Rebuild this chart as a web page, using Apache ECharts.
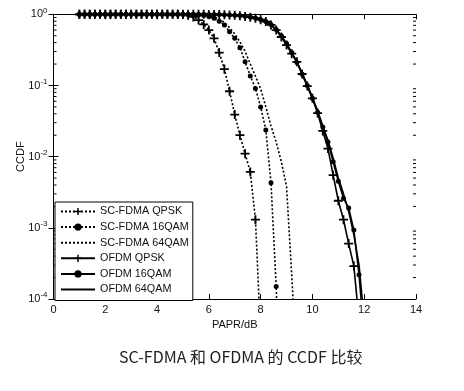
<!DOCTYPE html>
<html>
<head>
<meta charset="utf-8">
<script src="https://cdn.jsdelivr.net/npm/echarts@6/dist/echarts.min.js"></script>
<style>
html,body{margin:0;padding:0;background:#fff;}
#c{width:464px;height:391px;}
</style>
</head>
<body>
<div id="c"></div>
<script>
// PAPR grid (dB)
const papr = [1.0,1.2,1.4,1.6,1.8,2.0,2.2,2.4,2.6,2.8,3.0,3.2,3.4,3.6,3.8,4.0,4.2,4.4,4.6,4.8,
  5.0,5.2,5.4,5.6,5.8,6.0,6.2,6.4,6.6,6.8,7.0,7.2,7.4,7.6,7.8,8.0,8.2,8.4,8.6,8.8,
  9.0,9.2,9.4,9.6,9.8,10.0,10.2,10.4,10.6,10.8,11.0,11.2,11.4,11.6,11.8,12.0];

const scQpsk = [1,1,1,1,1,1,1,1,1,1,1,1,1,1,1,1,1,1,1,1,
  0.99,0.97,0.92,0.83,0.72,0.60,0.46,0.29,0.17,0.083,0.039,0.020,0.011,0.0061,0.0013,0.00003];

const sc16 = [1,1,1,1,1,1,1,1,1,1,1,1,1,1,1,1,1,1,1,1,1,
  0.995,0.99,0.98,0.96,0.93,0.88,0.80,0.71,0.57,0.46,0.34,0.216,0.136,0.091,0.050,0.0237,0.0043,0.00015,0.000001];

const sc64 = [1,1,1,1,1,1,1,1,1,1,1,1,1,1,1,1,1,1,1,1,1,1,
  0.995,0.99,0.98,0.96,0.92,0.86,0.77,0.65,0.53,0.41,0.30,0.20,0.135,0.09,0.05,0.027,0.016,0.0085,0.0038,0.00022,0.00001];

const ofdmQpsk = [1,1,1,1,1,1,1,1,1,1,1,1,1,1,1,1,1,1,1,1,1,1,1,1,1,
  0.995,0.993,0.99,0.985,0.98,0.97,0.955,0.935,0.91,0.88,0.84,0.79,0.71,0.60,0.48,0.37,0.28,0.215,0.145,0.098,
  0.066,0.041,0.023,0.013,0.0055,0.0024,0.0013,0.0006,0.00029,0.00005];

const ofdm16 = [1,1,1,1,1,1,1,1,1,1,1,1,1,1,1,1,1,1,1,1,1,1,1,1,1,
  0.996,0.994,0.99,0.986,0.98,0.972,0.96,0.94,0.915,0.885,0.845,0.795,0.72,0.61,0.50,0.39,0.29,0.21,0.145,0.10,
  0.066,0.042,0.026,0.016,0.0085,0.0045,0.0026,0.0019,0.00093,0.00022,0.00003];

const ofdm64 = [1,1,1,1,1,1,1,1,1,1,1,1,1,1,1,1,1,1,1,1,1,1,1,1,1,
  0.996,0.994,0.99,0.985,0.978,0.97,0.958,0.94,0.915,0.88,0.84,0.785,0.71,0.61,0.49,0.385,0.29,0.215,0.15,0.102,
  0.068,0.044,0.027,0.017,0.0095,0.005,0.003,0.0017,0.0008,0.0003,0.00005];

const seriesNames = ['SC-FDMA QPSK','SC-FDMA 16QAM','SC-FDMA 64QAM','OFDM QPSK','OFDM 16QAM','OFDM 64QAM'];
const xTicks = [0,2,4,6,8,10,12,14];
const minorTicks = [2e-4,3e-4,4e-4,5e-4,6e-4,7e-4,8e-4,9e-4,
  2e-3,3e-3,4e-3,5e-3,6e-3,7e-3,8e-3,9e-3,
  2e-2,3e-2,4e-2,5e-2,6e-2,7e-2,8e-2,9e-2,
  2e-1,3e-1,4e-1,5e-1,6e-1,7e-1,8e-1,9e-1];
const titleText = 'SC-FDMA 和 OFDMA 的 CCDF 比较';

const pairs = vals => vals.map((v, i) => [papr[i], v]);
const plus = 'path://M-1,-5L1,-5L1,-1L5,-1L5,1L1,1L1,5L-1,5L-1,1L-5,1L-5,-1L-1,-1Z';
const FONT = '"Liberation Sans", Arial, sans-serif';

function mkLine(name, vals, dotted, symbol, size) {
  return {
    name: name, type: 'line', data: pairs(vals),
    xAxisIndex: 0, yAxisIndex: 0,
    showSymbol: symbol !== 'none', symbol: symbol, symbolSize: size,
    itemStyle: {color: '#000', borderWidth: 0},
    lineStyle: {color: '#000', width: 1.6, type: dotted ? [2, 2] : 'solid'},
    clip: true, animation: false, z: 3
  };
}

const hidden = {color: 'rgba(0,0,0,0)', borderColor: 'rgba(0,0,0,0)', borderWidth: 0, opacity: 0};
const legendData = seriesNames.map((n, i) => (i === 2 || i === 5) ? {name: n, itemStyle: hidden} : {name: n});

const chart = echarts.init(document.getElementById('c'), null, {renderer: 'canvas'});
chart.setOption({
  animation: false,
  backgroundColor: '#fff',
  title: {
    text: titleText, left: 114, top: 344,
    textStyle: {fontFamily: '"Noto Sans CJK SC", sans-serif', fontSize: 16, fontWeight: 'normal', color: '#222'}
  },
  grid: {left: 53.5, right: 48, top: 14.3, bottom: 92, containLabel: false},
  legend: {
    data: legendData, orient: 'vertical', left: 55, top: 202,
    itemWidth: 34, itemHeight: 9, itemGap: 4.6, padding: [4, 4, 5.5, 5],
    borderColor: '#000', borderWidth: 1, backgroundColor: '#fff',
    textStyle: {fontFamily: FONT, fontSize: 10.8, color: '#111'},
    selectedMode: false, z: 10
  },
  xAxis: [{
    type: 'value', min: xTicks[0], max: xTicks[xTicks.length - 1], interval: 2,
    name: 'PAPR/dB', nameLocation: 'middle', nameGap: 18,
    nameTextStyle: {fontFamily: FONT, fontSize: 11, color: '#111'},
    axisLine: {show: true, lineStyle: {color: '#000', width: 1}},
    axisTick: {show: true, inside: true, length: 5, lineStyle: {color: '#000'}},
    axisLabel: {fontFamily: FONT, fontSize: 11, color: '#111', margin: 5},
    splitLine: {show: false}
  }, {
    type: 'value', position: 'top', min: xTicks[0], max: xTicks[xTicks.length - 1], interval: 2,
    axisLine: {show: true, lineStyle: {color: '#000', width: 1}},
    axisTick: {show: true, inside: true, length: 5, lineStyle: {color: '#000'}},
    axisLabel: {show: false}, splitLine: {show: false}
  }],
  yAxis: [{
    type: 'log', logBase: 10, min: 1e-4, max: 1,
    name: 'CCDF', nameLocation: 'middle', nameGap: 27, nameRotate: 90, nameMoveOverlap: false,
    nameTextStyle: {fontFamily: FONT, fontSize: 11, color: '#111'},
    axisLine: {show: true, lineStyle: {color: '#000', width: 1}},
    axisTick: {show: true, inside: true, length: 5, lineStyle: {color: '#000'}},
    axisLabel: {
      margin: 6, fontFamily: FONT, color: '#111',
      formatter: v => '{b|10}{s|' + Math.round(Math.log10(v)) + '}',
      rich: {
        b: {fontFamily: FONT, fontSize: 11, color: '#111'},
        s: {fontFamily: FONT, fontSize: 8, color: '#111', padding: [0, 0, 8, 0]}
      }
    },
    splitLine: {show: false}
  }, {
    type: 'log', logBase: 10, min: 1e-4, max: 1, position: 'right',
    axisLine: {show: true, lineStyle: {color: '#000', width: 1}},
    axisTick: {show: true, inside: true, length: 5, lineStyle: {color: '#000'}},
    axisLabel: {show: false}, splitLine: {show: false}
  }],
  series: [
    mkLine(seriesNames[0], scQpsk, true, plus, 9),
    mkLine(seriesNames[1], sc16, true, 'circle', 5),
    mkLine(seriesNames[2], sc64, true, 'none', 0),
    mkLine(seriesNames[3], ofdmQpsk, false, plus, 9),
    mkLine(seriesNames[4], ofdm16, false, 'circle', 5),
    mkLine(seriesNames[5], ofdm64, false, 'none', 0),
    {
      type: 'custom', name: 'minorTicks', silent: true, clip: false, z: 2,
      xAxisIndex: 0, yAxisIndex: 0,
      data: minorTicks.map(v => [xTicks[0], v]),
      renderItem: function (params, api) {
        const v = api.value(1);
        const l = api.coord([xTicks[0], v]);
        const r = api.coord([xTicks[xTicks.length - 1], v]);
        const st = {stroke: '#000', lineWidth: 1};
        return {type: 'group', children: [
          {type: 'line', shape: {x1: l[0], y1: l[1], x2: l[0] + 3, y2: l[1]}, style: st},
          {type: 'line', shape: {x1: r[0], y1: r[1], x2: r[0] - 3, y2: r[1]}, style: st}
        ]};
      }
    }
  ]
});
</script>
</body>
</html>
